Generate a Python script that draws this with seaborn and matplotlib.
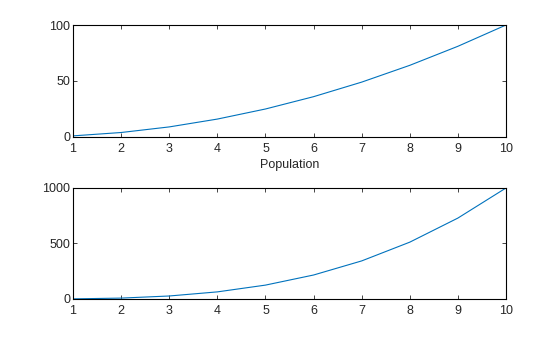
import matplotlib
matplotlib.use("Agg")
import matplotlib.pyplot as plt
import seaborn as sns
import pandas as pd

x_vals = [1, 2, 3, 4, 5, 6, 7, 8, 9, 10]
squares = [1, 4, 9, 16, 25, 36, 49, 64, 81, 100]
cubes = [1, 8, 27, 64, 125, 216, 343, 512, 729, 1000]
x_ticks = [1, 2, 3, 4, 5, 6, 7, 8, 9, 10]
top_yticks = [0, 50, 100]
bottom_yticks = [0, 500, 1000]

sns.set_theme(style="white")
plt.rcParams['font.family'] = ['Liberation Sans', 'DejaVu Sans']

fig = plt.figure(figsize=(5.6, 3.37), dpi=100)
ax1 = fig.add_axes([0.1304, 0.5935, 0.7732, 0.3323])
ax2 = fig.add_axes([0.1304, 0.1128, 0.7732, 0.3294])

df1 = pd.DataFrame({"x": x_vals, "y": squares})
df2 = pd.DataFrame({"x": x_vals, "y": cubes})
color = "#0072BD"
sns.lineplot(data=df1, x="x", y="y", ax=ax1, color=color, linewidth=0.8)
sns.lineplot(data=df2, x="x", y="y", ax=ax2, color=color, linewidth=0.8)

for ax, yt in ((ax1, top_yticks), (ax2, bottom_yticks)):
    ax.set_xlim(1, 10)
    ax.set_ylim(yt[0], yt[-1])
    ax.set_xticks(x_ticks)
    ax.set_yticks(yt)
    ax.set_ylabel("")
    ax.set_xlabel("")
    for s in ax.spines.values():
        s.set_visible(True)
        s.set_color("black")
        s.set_linewidth(0.8)
    ax.tick_params(direction="in", length=3, width=0.6, colors="#262626",
                   labelsize=9, top=True, right=True, bottom=True, left=True,
                   pad=2)
    ax.tick_params(axis="x", pad=4)

ax1.set_xlabel("Population", fontsize=9, color="#262626", labelpad=3)

fig.savefig("out.png", dpi=100, facecolor="white")
